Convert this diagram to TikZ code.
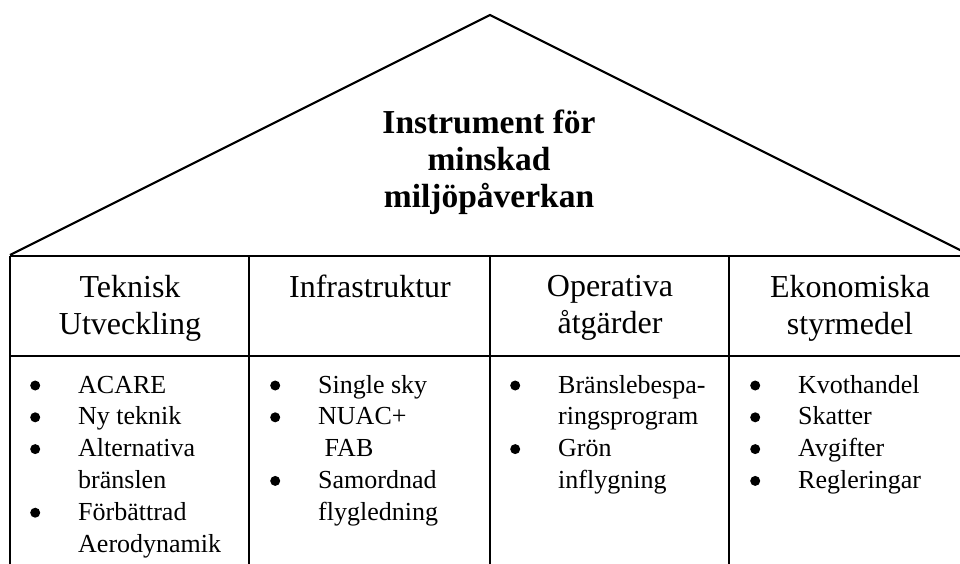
\documentclass[tikz,border=0pt]{standalone}
\usepackage{fontspec}
\setmainfont{Liberation Serif}
\usepackage{array}

\newcommand{\pkt}{\tikz[baseline=0pt]\fill (0pt,7.5pt) circle (5pt);}

\begin{document}
\begin{tikzpicture}[x=1pt,y=-1pt,line width=2.1pt,
    titletxt/.style={draw=none,align=center,font=\fontsize{33.5}{37}\selectfont\bfseries},
    headtxt/.style={draw=none,align=center,anchor=north,inner sep=0pt,font=\fontsize{32}{37}\selectfont},
    listtxt/.style={draw=none,anchor=base west,inner sep=0pt,font=\fontsize{26}{31.8}\selectfont}]
  \clip (0,0) rectangle (960,563);

  % taket
  \draw (10,255) -- (490,15) -- (970,255);
  \node[titletxt] (titel) at (489,162) {Instrument för\\minskad\\miljöpåverkan};

  % tabellen
  \draw (10,256) -- (970,256);
  \draw (10,356) -- (970,356);
  \foreach \x in {10,249,490,729,970}
    \draw (\x,256) -- (\x,570);

  \node[headtxt] (teknik) at (130,274) {Teknisk\\Utveckling};
  \node[headtxt] (infra) at (370,274) {Infrastruktur};
  \node[headtxt] (operativ) at (610,274) {Operativa\\åtgärder};
  \node[headtxt] (ekonomi) at (850,274) {Ekonomiska\\styrmedel};

  \node[listtxt] (teknikLista) at (30,393) {\begin{tabular}[t]{@{}p{48pt}@{}l@{}}
      \pkt & ACARE\\
      \pkt & Ny teknik\\
      \pkt & Alternativa\\
           & bränslen\\
      \pkt & Förbättrad\\
           & Aerodynamik
    \end{tabular}};
  \node[listtxt] (infraLista) at (270,393) {\begin{tabular}[t]{@{}p{48pt}@{}l@{}}
      \pkt & Single sky\\
      \pkt & NUAC+\\
           & \hspace{0.25em}FAB\\
      \pkt & Samordnad\\
           & flygledning
    \end{tabular}};
  \node[listtxt] (operativLista) at (510,393) {\begin{tabular}[t]{@{}p{48pt}@{}l@{}}
      \pkt & Bränslebespa-\\
           & ringsprogram\\
      \pkt & Grön\\
           & inflygning
    \end{tabular}};
  \node[listtxt] (ekonomiLista) at (750,393) {\begin{tabular}[t]{@{}p{48pt}@{}l@{}}
      \pkt & Kvothandel\\
      \pkt & Skatter\\
      \pkt & Avgifter\\
      \pkt & Regleringar
    \end{tabular}};
\end{tikzpicture}
\end{document}
